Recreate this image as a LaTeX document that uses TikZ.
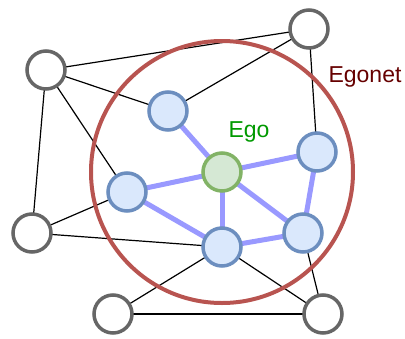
\documentclass[tikz,border=0pt]{standalone}
\usepackage{fontspec}
\setmainfont{Liberation Sans}
\pgfdeclarelayer{bg}
\pgfsetlayers{bg,main}
\begin{document}
\begin{tikzpicture}[x=1pt,y=-1pt,
  outer/.style={circle,draw=black!60,line width=3.5pt,fill=white,minimum size=38pt,inner sep=0pt},
  member/.style={circle,draw={rgb,255:red,108;green,142;blue,191},line width=3.5pt,fill={rgb,255:red,218;green,232;blue,252},minimum size=38pt,inner sep=0pt},
  egonode/.style={circle,draw={rgb,255:red,130;green,179;blue,102},line width=3.5pt,fill={rgb,255:red,213;green,232;blue,212},minimum size=38pt,inner sep=0pt},
  thin/.style={line width=1.2pt,draw=black},
  thick/.style={line width=5pt,draw={rgb,255:red,153;green,153;blue,255}},
  lbl/.style={font=\fontsize{23pt}{26pt}\selectfont,inner sep=0pt}]
\useasboundingbox (0,0) rectangle (405,338);
% nodes
\node[outer] (A) at (46,70) {};
\node[outer] (B) at (309,29) {};
\node[outer] (C) at (32,233) {};
\node[outer] (D) at (113,314) {};
\node[outer] (E) at (323,314) {};
\node[member] (n1) at (168,111) {};
\node[member] (n2) at (317,152) {};
\node[member] (n3) at (127,192) {};
\node[member] (n4) at (222,247) {};
\node[member] (n5) at (303,233) {};
\node[egonode] (ego) at (222,172) {};
% labels
\node[lbl,text={rgb,255:red,0;green,153;blue,0}] (egolbl) at (249,132) {Ego};
\node[lbl,text={rgb,255:red,102;green,0;blue,0}] (egonetlbl) at (365,77) {Egonet};
\begin{pgfonlayer}{bg}
% thin edges
\draw[thin] (A.center) -- (B.center);
\draw[thin] (A.center) -- (n1.center);
\draw[thin] (A.center) -- (C.center);
\draw[thin] (A.center) -- (n3.center);
\draw[thin] (B.center) -- (n1.center);
\draw[thin] (B.center) -- (n2.center);
\draw[thin] (C.center) -- (n3.center);
\draw[thin] (C.center) -- (n4.center);
\draw[thin] (D.center) -- (n4.center);
\draw[thin] (D.center) -- (E.center);
\draw[thin] (E.center) -- (n4.center);
\draw[thin] (E.center) -- (n5.center);
% egonet circle
\draw[line width=4pt,draw={rgb,255:red,184;green,84;blue,80}] (ego.center) circle (131);
% thick edges
\draw[thick] (ego.center) -- (n1.center);
\draw[thick] (ego.center) -- (n2.center);
\draw[thick] (ego.center) -- (n3.center);
\draw[thick] (ego.center) -- (n4.center);
\draw[thick] (ego.center) -- (n5.center);
\draw[thick] (n3.center) -- (n4.center);
\draw[thick] (n4.center) -- (n5.center);
\draw[thick] (n2.center) -- (n5.center);
\end{pgfonlayer}
\end{tikzpicture}
\end{document}
